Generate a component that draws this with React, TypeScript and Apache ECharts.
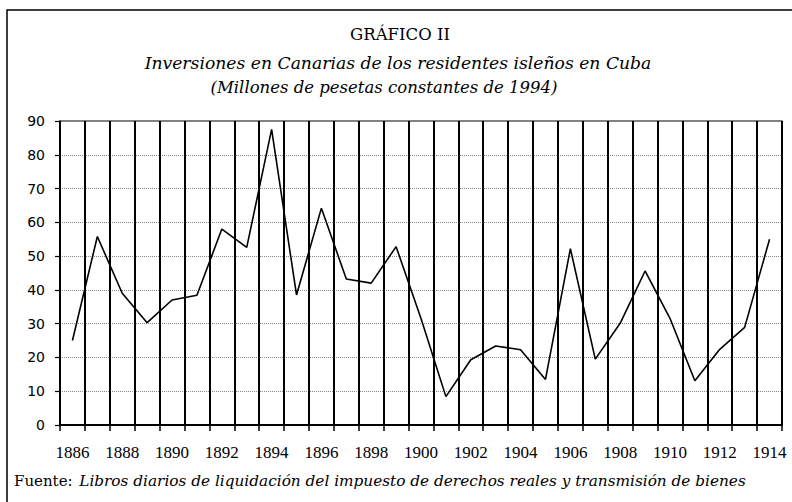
import { useEffect, useRef } from "react";
import * as echarts from "echarts";

const years = [
  "1886", "1887", "1888", "1889", "1890", "1891", "1892", "1893", "1894", "1895",
  "1896", "1897", "1898", "1899", "1900", "1901", "1902", "1903", "1904", "1905",
  "1906", "1907", "1908", "1909", "1910", "1911", "1912", "1913", "1914",
];
const inversiones = [
  25, 55.8, 39, 30.3, 37, 38.4, 58, 52.6, 87.5, 38.5,
  64.2, 43.2, 42, 52.8, 31.5, 8.4, 19.3, 23.4, 22.3, 13.5,
  52.2, 19.5, 30.1, 45.6, 31.6, 13.1, 22.4, 28.9, 55,
];
const yMin = 0;
const yMax = 90;
const yStep = 10;

const titleLines = [
  "GRÁFICO II",
  "Inversiones en Canarias de los residentes isleños en Cuba",
  "(Millones de pesetas constantes de 1994)",
];
const sourceLabel = "Fuente:";
const sourceText = "Libros diarios de liquidación del impuesto de derechos reales y transmisión de bienes";

export default function App() {
  const ref = useRef<HTMLDivElement>(null);
  useEffect(() => {
    if (!ref.current) return;
    const chart = echarts.init(ref.current, null, { renderer: "svg" });
    const serif = "DejaVu Serif";
    chart.setOption({
      animation: false,
      backgroundColor: "#fff",
      grid: {
        left: 60,
        right: 10,
        top: 121,
        bottom: 77,
        show: true,
        borderColor: "#000",
        borderWidth: 1.2,
        containLabel: false,
      },
      xAxis: {
        type: "category",
        data: years,
        boundaryGap: true,
        axisLine: { show: true, lineStyle: { color: "#000", width: 1.8 } },
        axisTick: { show: true, interval: 0, length: 6, lineStyle: { color: "#000", width: 1.5 } },
        axisLabel: {
          interval: 1,
          margin: 19,
          color: "#000",
          fontFamily: "Liberation Serif",
          fontSize: 17,
        },
        splitLine: { show: true, interval: 0, lineStyle: { color: "#000", width: 2 } },
      },
      yAxis: {
        type: "value",
        min: yMin,
        max: yMax,
        interval: yStep,
        axisLine: { show: true, lineStyle: { color: "#000", width: 1.5 } },
        axisTick: { show: true, length: 5, lineStyle: { color: "#000", width: 1.2 } },
        axisLabel: {
          margin: 15,
          color: "#000",
          fontFamily: "DejaVu Sans",
          fontSize: 14,
        },
        splitLine: { show: true, lineStyle: { color: "#8a8a8a", width: 1, type: "dotted" } },
      },
      series: [
        {
          type: "line",
          data: inversiones,
          symbol: "none",
          lineStyle: { color: "#000", width: 1.6 },
          z: 5,
        },
      ],
      graphic: [
        {
          type: "rect",
          shape: { x: 7, y: 10, width: 800, height: 520 },
          style: { fill: "none", stroke: "#000", lineWidth: 1.5 },
          silent: true,
        },
        {
          type: "text",
          x: 400,
          y: 34,
          style: { text: titleLines[0], fontFamily: serif, fontSize: 16.5, fill: "#000", textAlign: "center", textVerticalAlign: "middle" },
        },
        {
          type: "text",
          x: 398,
          y: 63,
          style: { text: titleLines[1], fontFamily: serif, fontStyle: "italic", fontSize: 17.2, fill: "#000", textAlign: "center", textVerticalAlign: "middle" },
        },
        {
          type: "text",
          x: 384,
          y: 87,
          style: { text: titleLines[2], fontFamily: serif, fontStyle: "italic", fontSize: 16.5, fill: "#000", textAlign: "center", textVerticalAlign: "middle" },
        },
        {
          type: "text",
          x: 14,
          y: 481,
          style: {
            text: "{a|" + sourceLabel + "}  {b|" + sourceText + "}",
            textVerticalAlign: "middle",
            rich: {
              a: { fontFamily: serif, fontSize: 15, fill: "#000", color: "#000" },
              b: { fontFamily: serif, fontStyle: "italic", fontSize: 15.3, fill: "#000", color: "#000" },
            },
          },
        },
      ],
    });
    return () => chart.dispose();
  }, []);
  return (
    <div
      ref={ref}
      style={{ position: "fixed", left: 0, top: 0, width: 792, height: 502, background: "#fff" }}
    />
  );
}
